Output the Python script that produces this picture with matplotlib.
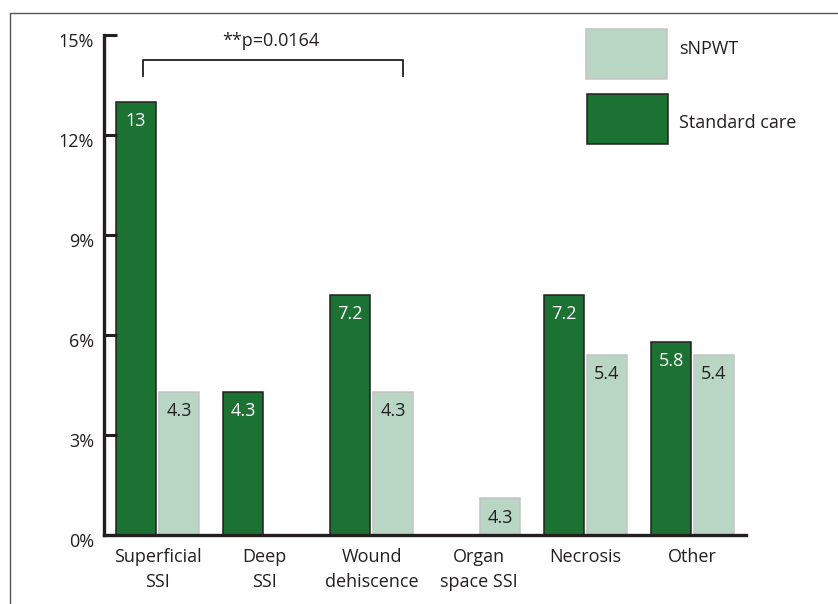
import numpy as np
import matplotlib
matplotlib.use("Agg")
import matplotlib.pyplot as plt
from matplotlib.patches import Rectangle
from matplotlib.lines import Line2D
import matplotlib.transforms as mtransforms

plt.rcParams['font.family'] = ['Open Sans', 'DejaVu Sans']

categories = ["Superficial\nSSI", "Deep\nSSI", "Wound\ndehiscence",
              "Organ\nspace SSI", "Necrosis", "Other"]
standard_care = [13.0, 4.3, 7.2, 0.0, 7.2, 5.8]
snpwt = [4.3, 0.0, 4.3, 1.1, 5.4, 5.4]
standard_labels = ["13", "4.3", "7.2", "", "7.2", "5.8"]
snpwt_labels = ["4.3", "", "4.3", "4.3", "5.4", "5.4"]
y_ticks = [0, 3, 6, 9, 12, 15]
p_text = "**p=0.0164"

DARK = "#1c7233"
LIGHT = "#b9d5c4"
INK = "#231f20"
FS = 13

fig = plt.figure(figsize=(8.38, 6.04), dpi=100)
ax = fig.add_axes([0.1241, 0.1142, 0.7661, 0.8279])

x = np.arange(len(categories))
w = 0.37
off = 0.2
for xi, v, lab in zip(x, standard_care, standard_labels):
    if v > 0:
        ax.bar(xi - off, v, width=w, color=DARK, edgecolor=INK, linewidth=1.1)
    if lab:
        ax.annotate(lab, (xi - off, v), xytext=(0, -14), textcoords="offset points",
                    ha="center", va="center", color="white", fontsize=FS)
for xi, v, lab in zip(x, snpwt, snpwt_labels):
    if v > 0:
        ax.bar(xi + off, v, width=w, color=LIGHT, edgecolor="#c4c4c4", linewidth=1.1)
    if lab:
        ax.annotate(lab, (xi + off, v), xytext=(0, -14), textcoords="offset points",
                    ha="center", va="center", color=INK, fontsize=FS)

ax.set_xlim(-0.5, 5.5)
ax.set_ylim(0, 15)
ax.set_yticks(y_ticks)
ax.set_yticklabels([f"{t}%" for t in y_ticks], fontsize=FS, color=INK)
ax.set_xticks(x)
ax.set_xticklabels(categories, fontsize=FS, color=INK, linespacing=1.55)
ax.tick_params(axis="y", direction="in", length=9, width=2.2, color=INK, pad=7)
ax.tick_params(axis="x", length=0, pad=9)
# nudge y labels slightly below their ticks like the original
shift = mtransforms.ScaledTranslation(0, -5 / 100, fig.dpi_scale_trans)
for t in ax.get_yticklabels():
    t.set_transform(t.get_transform() + shift)

for s in ["top", "right"]:
    ax.spines[s].set_visible(False)
for s in ["left", "bottom"]:
    ax.spines[s].set_linewidth(2.4)
    ax.spines[s].set_color(INK)

# significance bracket
ax.plot([0.0603, 0.0603, 0.4653, 0.4653], [0.918, 0.95, 0.95, 0.918],
        transform=ax.transAxes, color=INK, linewidth=1.3, clip_on=False)
ax.text(0.2597, 0.988, p_text, transform=ax.transAxes, ha="center", va="center",
        fontsize=FS, color=INK)

# legend boxes
ax.add_patch(Rectangle((0.751, 0.912), 0.126, 0.1, transform=ax.transAxes,
                       facecolor=LIGHT, edgecolor="#c4c4c4", linewidth=1.1, clip_on=False))
ax.add_patch(Rectangle((0.752, 0.782), 0.126, 0.1, transform=ax.transAxes,
                       facecolor=DARK, edgecolor=INK, linewidth=1.1, clip_on=False))
ax.text(0.896, 0.972, "sNPWT", transform=ax.transAxes, ha="left", va="center",
        fontsize=FS, color=INK)
ax.text(0.896, 0.824, "Standard care", transform=ax.transAxes, ha="left", va="center",
        fontsize=FS, color=INK)

# outer frame (left and top edges)
fig.add_artist(Line2D([10 / 838, 10 / 838, 1.0], [0.0, 1 - 13 / 604, 1 - 13 / 604],
                      transform=fig.transFigure, color="#555555", linewidth=1.0))

fig.savefig("out.png", dpi=100)
